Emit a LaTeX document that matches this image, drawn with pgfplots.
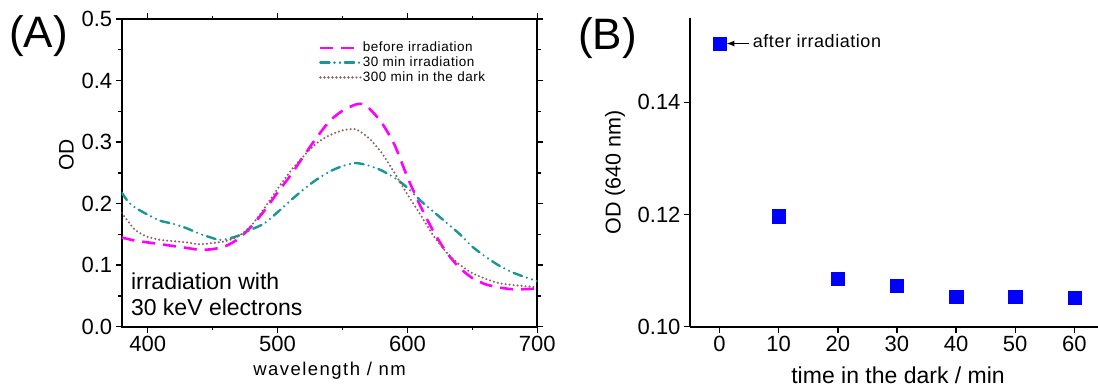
\documentclass[border=0pt]{standalone}
\usepackage{fontspec}
\setmainfont{Liberation Sans}
\usepackage{pgfplots}
\pgfplotsset{compat=1.18}
\usetikzlibrary{arrows.meta}
\definecolor{mag}{RGB}{255,0,255}
\definecolor{tealc}{RGB}{25,150,150}
\definecolor{brn}{RGB}{145,95,95}
\definecolor{sqblue}{RGB}{0,0,255}

\pgfplotstableread{
x y
380 0.145
390 0.140
400 0.137
410 0.134
420 0.131
430 0.128
440 0.125
450 0.126
460 0.131
470 0.143
480 0.163
490 0.189
500 0.218
510 0.246
520 0.277
530 0.307
540 0.334
550 0.351
560 0.361
565 0.362
570 0.356
580 0.332
590 0.296
600 0.243
610 0.196
620 0.155
630 0.121
640 0.096
650 0.079
660 0.069
670 0.064
680 0.061
690 0.061
700 0.062
}\before

\pgfplotstableread{
x y
380 0.218
385 0.203
390 0.194
400 0.182
410 0.172
420 0.167
430 0.160
440 0.151
450 0.144
455 0.141
460 0.142
470 0.148
480 0.158
490 0.168
500 0.186
510 0.205
520 0.223
530 0.239
540 0.252
550 0.261
560 0.266
570 0.262
580 0.254
590 0.242
600 0.226
610 0.205
620 0.187
630 0.169
640 0.151
650 0.130
660 0.114
670 0.100
680 0.089
690 0.081
700 0.074
}\irrad

\pgfplotstableread{
x y
380 0.185
385 0.171
390 0.158
395 0.151
400 0.146
410 0.141
420 0.139
430 0.137
440 0.134
450 0.136
460 0.139
470 0.147
480 0.165
490 0.193
500 0.224
510 0.253
520 0.277
530 0.298
540 0.311
550 0.319
560 0.321
570 0.307
580 0.283
590 0.250
600 0.215
610 0.182
620 0.148
630 0.121
640 0.101
650 0.087
660 0.078
670 0.071
680 0.068
690 0.066
700 0.064
}\dark

\pgfplotstableread{
t od
0 0.1505
10 0.1197
20 0.1086
30 0.1073
40 0.1054
50 0.1053
60 0.1052
}\decay

\begin{document}
\begin{tikzpicture}
\path[use as bounding box] (0,0) rectangle (1098pt,389pt);

\begin{axis}[
  at={(121.7pt,62.3pt)}, anchor=south west,
  scale only axis, width=415.6pt, height=307.7pt,
  xmin=380, xmax=700, ymin=0, ymax=0.5,
  xtick={400,500,600,700}, minor xtick={450,550,650},
  ytick={0,0.1,0.2,0.3,0.4,0.5}, minor ytick={0.05,0.15,0.25,0.35,0.45},
  tick align=outside, tick pos=both,
  xticklabel pos=lower, yticklabel pos=left,
  major tick length=6pt, minor tick length=3.5pt,
  every tick/.style={black, line width=1.4pt},
  axis line style={line width=1.8pt},
  tick label style={font=\fontsize{22}{25}\selectfont},
  /pgf/number format/assume math mode=true,
  yticklabel style={/pgf/number format/.cd, fixed, fixed zerofill, precision=1},
  xticklabel style={/pgf/number format/.cd, fixed, 1000 sep={}},
  xlabel={wavelength / nm}, ylabel={OD},
  xlabel style={at={(axis description cs:0.5,-0.157)}, anchor=base,
    font=\fontsize{18.5}{22}\selectfont\addfontfeature{LetterSpace=8}},
  ylabel style={at={(axis description cs:-0.1155,0.558)}, anchor=base,
    font=\fontsize{21}{24}\selectfont},
  legend style={at={(rel axis cs:0.4747,0.9285)}, anchor=north west, draw=none, fill=none,
    inner sep=0pt, row sep=1.5pt,
    font=\fontsize{13.5}{16}\selectfont\addfontfeature{LetterSpace=4},
    nodes={inner sep=1pt}},
  legend cell align=left,
  legend image code/.code={\draw[#1] (0pt,0pt) -- (35pt,0pt); \path (0pt,0pt) -- (40pt,0pt);},
]
\addplot[mag, line width=2.6pt, dash pattern=on 13pt off 8pt, smooth, tension=0.4] table[x=x,y=y] {\before};
\addlegendentry{before irradiation}
\addplot[tealc, line width=2.4pt, line cap=round, dash pattern=on 9pt off 5pt on 0pt off 5.5pt on 0pt off 5pt, smooth, tension=0.4] table[x=x,y=y] {\irrad};
\addlegendentry{30 min irradiation}
\addplot[brn, line width=2.3pt, line cap=round, dash pattern=on 0pt off 4pt, smooth, tension=0.4] table[x=x,y=y] {\dark};
\addlegendentry{300 min in the dark}
\node[anchor=base west, inner sep=0, font=\fontsize{23}{26}\selectfont] at (rel axis cs:0.022,0.1225) {irradiation with};
\node[anchor=base west, inner sep=0, font=\fontsize{23}{26}\selectfont] at (rel axis cs:0.022,0.038) {30 keV electrons};
\end{axis}

\begin{axis}[
  at={(690pt,62.3pt)}, anchor=south west,
  scale only axis, width=408pt, height=308.4pt,
  xmin=-5, xmax=64, ymin=0.1, ymax=0.155,
  axis lines=left, axis line style={-, line width=1.8pt},
  tick align=outside,
  xtick={0,10,...,60}, ytick={0.10,0.12,0.14},
  major tick length=6pt,
  every tick/.style={black, line width=1.4pt},
  tick label style={font=\fontsize{22}{25}\selectfont},
  /pgf/number format/assume math mode=true,
  yticklabel style={/pgf/number format/.cd, fixed, fixed zerofill, precision=2},
  xlabel={time in the dark / min}, ylabel={OD (640 nm)},
  xlabel style={at={(axis description cs:0.51,-0.1835)}, anchor=base,
    font=\fontsize{23}{26}\selectfont},
  ylabel style={at={(axis description cs:-0.17,0.5)}, anchor=base,
    font=\fontsize{21.5}{24}\selectfont},
  clip=false,
]
\addplot[only marks, mark=square*, mark size=6.65pt, mark options={draw=sqblue, fill=sqblue}] table[x=t,y=od] {\decay};
\draw[line width=1.3pt, -{Latex[length=8pt,width=6pt]}] (axis cs:5.0,0.1505) -- (axis cs:1.15,0.1505);
\node[anchor=base west, inner sep=0, font=\fontsize{18}{22}\selectfont\addfontfeature{LetterSpace=3}] at (axis cs:5.6,0.14982) {after irradiation};
\end{axis}

\node[anchor=base west, inner sep=0, font=\fontsize{44}{50}\selectfont] at (9pt,341pt) {(A)};
\node[anchor=base west, inner sep=0, font=\fontsize{44}{50}\selectfont] at (578pt,339pt) {(B)};
\end{tikzpicture}
\end{document}
